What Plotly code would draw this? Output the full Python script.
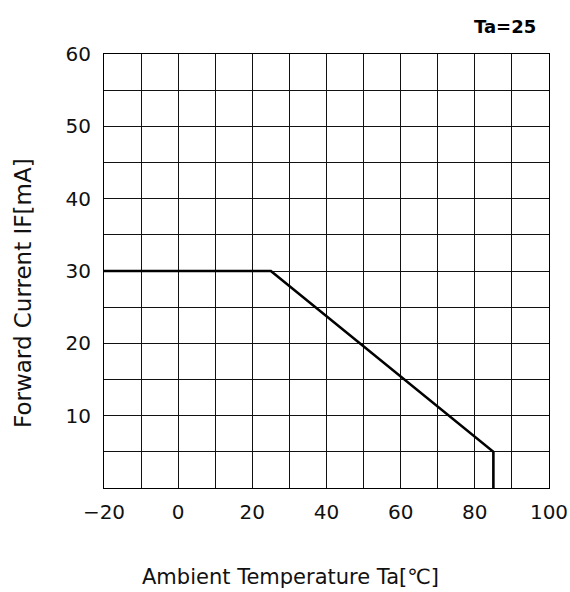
import plotly.graph_objects as go

temp_c = [-20, 25, 85, 85]
current_ma = [30, 30, 5, 0]

x_ticks = [-20, 0, 20, 40, 60, 80, 100]
x_tick_text = ["\u221220", "0", "20", "40", "60", "80", "100"]
y_ticks = [10, 20, 30, 40, 50, 60]

FONT = "DejaVu Sans"

fig = go.Figure()
fig.add_trace(go.Scatter(x=temp_c, y=current_ma, mode="lines",
                         line=dict(color="black", width=2.6), showlegend=False,
                         hoverinfo="skip"))

fig.update_xaxes(range=[-20, 100], tickvals=x_ticks, ticktext=x_tick_text,
                 automargin=False,
                 showgrid=True, gridcolor="#111", gridwidth=1,
                 minor=dict(dtick=10, tick0=0, showgrid=True, gridcolor="#111", gridwidth=1),
                 showline=True, linecolor="black", linewidth=1, mirror=True,
                 zeroline=False, ticks="", tickfont=dict(family=FONT, size=20, color="#111"),
                 ticklabelstandoff=6)
fig.update_yaxes(range=[0, 60], tickvals=y_ticks,
                 automargin=False,
                 showgrid=True, gridcolor="#111", gridwidth=1,
                 minor=dict(dtick=5, tick0=0, showgrid=True, gridcolor="#111", gridwidth=1),
                 showline=True, linecolor="black", linewidth=1, mirror=True,
                 zeroline=False, ticks="", tickfont=dict(family=FONT, size=20, color="#111"),
                 ticklabelstandoff=8)

fig.update_layout(
    width=570, height=592,
    margin=dict(l=104, r=21, t=54, b=104),
    paper_bgcolor="white", plot_bgcolor="white",
    annotations=[
        dict(text="<b>Ta=25</b>", xref="paper", yref="paper",
             x=(505 - 104) / 445, y=(488 - 26) / 434,
             showarrow=False, font=dict(family=FONT, size=18, color="black"),
             xanchor="center", yanchor="middle"),
        dict(text="Forward Current IF[mA]", xref="paper", yref="paper",
             x=(23 - 104) / 445, y=(488 - 293) / 434, textangle=-90,
             showarrow=False, font=dict(family=FONT, size=23, color="#111"),
             xanchor="center", yanchor="middle"),
        dict(text="Ambient Temperature Ta[\u2103]", xref="paper", yref="paper",
             x=(140 - 104) / 445, y=(488 - 577) / 434,
             showarrow=False, font=dict(family=FONT, size=21, color="#111"),
             xanchor="left", yanchor="middle"),
    ],
)

fig.write_html("out.html", config={"displayModeBar": False},
               post_script="document.body.style.margin='0';document.body.style.padding='0';")
